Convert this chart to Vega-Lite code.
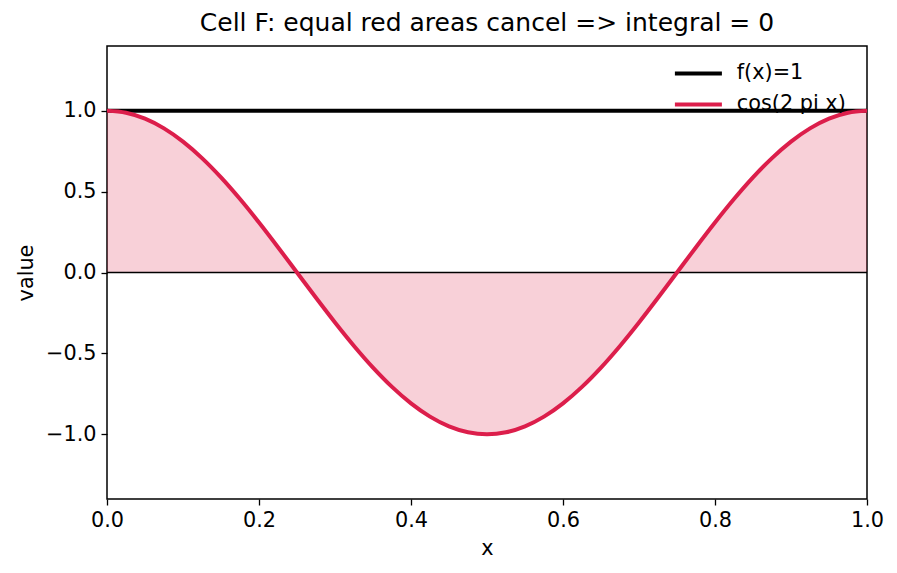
{
  "$schema": "https://vega.github.io/schema/vega-lite/v6.json",
  "width": 760,
  "height": 453,
  "padding": {"left": 107, "top": 46, "right": 30, "bottom": 74},
  "autosize": {"type": "none"},
  "background": "white",
  "title": {
    "text": "Cell F: equal red areas cancel => integral = 0",
    "fontSize": 25,
    "fontWeight": "normal",
    "font": "DejaVu Sans",
    "color": "black",
    "offset": 10
  },
  "config": {
    "font": "DejaVu Sans",
    "view": {"stroke": "black", "strokeWidth": 1.5},
    "axis": {
      "grid": false,
      "domain": false,
      "tickColor": "black",
      "tickSize": 6,
      "tickWidth": 1.3,
      "labelColor": "black",
      "labelFontSize": 20.8,
      "labelFont": "DejaVu Sans",
      "labelFlush": false,
      "labelOverlap": false,
      "titleFont": "DejaVu Sans",
      "titleFontSize": 20.8,
      "titleFontWeight": "normal",
      "titleColor": "black"
    }
  },
  "datasets": {
    "curve": [
      {"x": 0.000, "y": 1.0000},
      {"x": 0.025, "y": 0.9877},
      {"x": 0.050, "y": 0.9511},
      {"x": 0.075, "y": 0.8910},
      {"x": 0.100, "y": 0.8090},
      {"x": 0.125, "y": 0.7071},
      {"x": 0.150, "y": 0.5878},
      {"x": 0.175, "y": 0.4540},
      {"x": 0.200, "y": 0.3090},
      {"x": 0.225, "y": 0.1564},
      {"x": 0.250, "y": 0.0000},
      {"x": 0.275, "y": -0.1564},
      {"x": 0.300, "y": -0.3090},
      {"x": 0.325, "y": -0.4540},
      {"x": 0.350, "y": -0.5878},
      {"x": 0.375, "y": -0.7071},
      {"x": 0.400, "y": -0.8090},
      {"x": 0.425, "y": -0.8910},
      {"x": 0.450, "y": -0.9511},
      {"x": 0.475, "y": -0.9877},
      {"x": 0.500, "y": -1.0000},
      {"x": 0.525, "y": -0.9877},
      {"x": 0.550, "y": -0.9511},
      {"x": 0.575, "y": -0.8910},
      {"x": 0.600, "y": -0.8090},
      {"x": 0.625, "y": -0.7071},
      {"x": 0.650, "y": -0.5878},
      {"x": 0.675, "y": -0.4540},
      {"x": 0.700, "y": -0.3090},
      {"x": 0.725, "y": -0.1564},
      {"x": 0.750, "y": 0.0000},
      {"x": 0.775, "y": 0.1564},
      {"x": 0.800, "y": 0.3090},
      {"x": 0.825, "y": 0.4540},
      {"x": 0.850, "y": 0.5878},
      {"x": 0.875, "y": 0.7071},
      {"x": 0.900, "y": 0.8090},
      {"x": 0.925, "y": 0.8910},
      {"x": 0.950, "y": 0.9511},
      {"x": 0.975, "y": 0.9877},
      {"x": 1.000, "y": 1.0000}
    ],
    "constant": [
      {"x": 0, "y": 1},
      {"x": 1, "y": 1}
    ],
    "zero": [{"y": 0}]
  },
  "encoding": {
    "x": {
      "field": "x",
      "type": "quantitative",
      "scale": {"domain": [0, 1], "nice": false, "zero": false},
      "axis": {"values": [0, 0.2, 0.4, 0.6, 0.8, 1.0], "format": ".1f", "title": "x", "titlePadding": 9, "labelPadding": 5}
    },
    "y": {
      "field": "y",
      "type": "quantitative",
      "scale": {"domain": [-1.4, 1.4], "nice": false, "zero": false},
      "axis": {"values": [-1, -0.5, 0, 0.5, 1], "format": ".1f", "title": "value", "titlePadding": 9, "labelPadding": 5}
    }
  },
  "layer": [
    {
      "data": {"name": "curve"},
      "mark": {"type": "area", "color": "#dc143c", "opacity": 0.2, "interpolate": "monotone"},
      "encoding": {"y2": {"datum": 0}}
    },
    {
      "data": {"name": "zero"},
      "mark": {"type": "rule", "color": "black", "strokeWidth": 1.5},
      "encoding": {"x": null}
    },
    {
      "data": {"name": "constant"},
      "transform": [{"calculate": "'f(x)=1'", "as": "series"}],
      "mark": {"type": "line", "strokeWidth": 4},
      "encoding": {
        "color": {
          "field": "series",
          "type": "nominal",
          "scale": {"domain": ["f(x)=1", "cos(2 pi x)"], "range": ["black", "#dc1e4b"]},
          "legend": {
            "orient": "none",
            "legendX": 581,
            "legendY": 17,
            "title": null,
            "symbolType": "M-4.7,0H4.7",
            "symbolSize": 100,
            "symbolStrokeWidth": 4,
            "labelFontSize": 20.8,
            "labelColor": "black",
            "labelOffset": 28,
            "rowPadding": 9
          }
        }
      }
    },
    {
      "data": {"name": "curve"},
      "transform": [{"calculate": "'cos(2 pi x)'", "as": "series"}],
      "mark": {"type": "line", "strokeWidth": 4, "interpolate": "monotone"},
      "encoding": {
        "color": {"field": "series", "type": "nominal"}
      }
    }
  ]
}
